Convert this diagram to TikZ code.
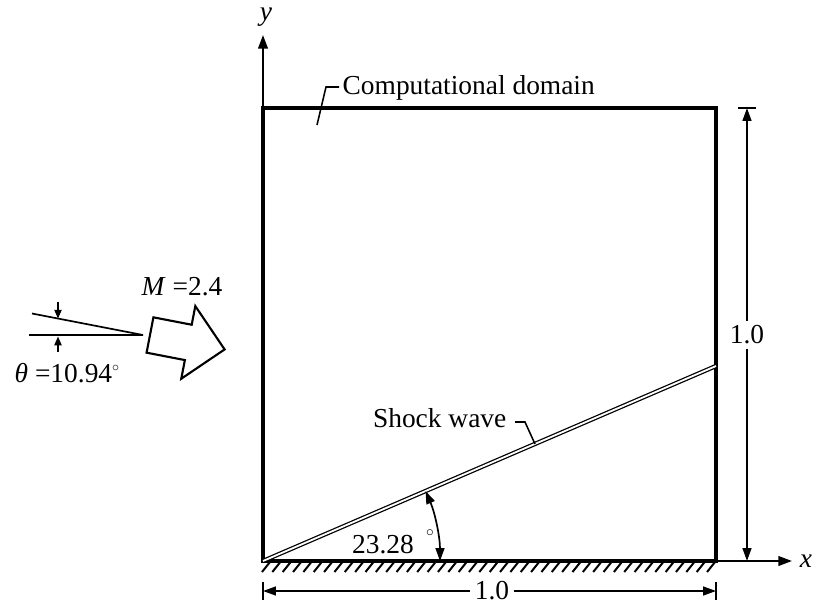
\documentclass[tikz,border=0pt]{standalone}
\usepackage{fontspec}
\setmainfont{Liberation Serif}
\usetikzlibrary{arrows.meta,calc}

\begin{document}
\begin{tikzpicture}[
  x=0.025cm,y=-0.025cm,
  font=\fontsize{19.5}{23}\selectfont,
  wall/.style={line width=2.2pt},
  axis/.style={line width=1.5pt,-{Triangle[length=3.4mm,width=2.4mm]}},
  dim/.style={line width=1.2pt},
  dimar/.style={dim,-{Triangle[length=3.2mm,width=2.2mm]}},
  small/.style={line width=1.1pt,-{Triangle[length=2.2mm,width=1.8mm]}},
  lead/.style={line width=1.1pt},
  lbl/.style={inner sep=1pt},
  dimlbl/.style={inner sep=3pt,fill=white}
]
\useasboundingbox (0,0) rectangle (818,606);
% computational domain
\coordinate (O) at (263,561);
\coordinate (A) at (716,561);
\coordinate (B) at (716,108);
\coordinate (C) at (263,108);
\draw[wall] (O) -- (A) -- (B) -- (C) -- cycle;
% axes
\coordinate (ytip) at (263,35);
\coordinate (xtip) at (792,561);
\draw[axis] (C) -- (ytip);
\draw[axis] (A) -- (xtip);
\node[lbl] (ylab) at (266,17) {\textit{y}};
\node[lbl] (xlab) at (806,561) {\textit{x}};
% wall hatching
\foreach \i in {0,...,43}
  \draw[line width=1.4pt] ({270+10.35*\i},562) -- ++(-8,10);
% shock wave
\coordinate (S) at (716,366);
\draw[double,line width=0.9pt,double distance=1.3pt] (O) -- (S);
\node[lbl,anchor=base east] (shock) at (508,427) {Shock wave};
\coordinate (sw1) at (515,422);
\coordinate (sw2) at (525,422);
\coordinate (sw3) at (535,444);
\draw[lead] (sw1) -- (sw2) -- (sw3);
% shock angle
\coordinate (arc0) at (440,561);
\draw[dim,{Triangle[length=3.2mm,width=2.2mm]}-{Triangle[length=3.2mm,width=2.2mm]}]
  (arc0) arc[start angle=0,end angle=23.28,radius=4.425cm];
\node[lbl,anchor=base] (ang) at (383,553) {23.28};
\node[inner sep=0pt,font=\fontsize{11}{13}\selectfont] (deg) at (430,533) {$\circ$};
% domain label
\node[lbl,anchor=base west] (dom) at (341,94) {Computational domain};
\coordinate (cd1) at (339,87);
\coordinate (cd2) at (326,87);
\coordinate (cd3) at (317,125);
\draw[lead] (cd1) -- (cd2) -- (cd3);
% dimension along x
\coordinate (dL) at (263,591);
\coordinate (dR) at (716,591);
\draw[dim] ($(dL)+(0,-9)$) -- ($(dL)+(0,9)$);
\draw[dim] ($(dR)+(0,-9)$) -- ($(dR)+(0,9)$);
\node[dimlbl] (dimx) at (492,591) {1.0};
\draw[dimar] (dimx) -- (dL);
\draw[dimar] (dimx) -- (dR);
% dimension along y
\coordinate (dT) at (747,108);
\coordinate (dB) at (747,561);
\draw[dim] ($(dT)+(-9,0)$) -- ($(dT)+(9,0)$);
\node[dimlbl] (dimy) at (747,335) {1.0};
\draw[dimar] (dimy) -- (dT);
\draw[dimar] (dimy) -- (dB);
% inflow arrow
\begin{scope}[shift={(150,335)},rotate=-10.94]
  \draw[line width=1.5pt,line join=miter]
    (0,-18) -- (39,-18) -- (39,-37) -- (76,0) -- (39,37) -- (39,18) -- (0,18) -- cycle;
\end{scope}
\node[lbl,anchor=base] (mach) at (182,295) {\textit{M} =2.4};
% inflow angle
\coordinate (wT) at (143,335);
\coordinate (wH) at (29,335);
\coordinate (wS) at (32,313.5);
\draw[dim] (wH) -- (wT) -- (wS);
\coordinate (tA) at (58,302);
\coordinate (tB) at (58,318.6);
\coordinate (tC) at (58,352);
\coordinate (tD) at (58,336.5);
\draw[small] (tA) -- (tB);
\draw[small] (tC) -- (tD);
\node[lbl,anchor=base west] (theta) at (13,382) {\textit{θ} =10.94${}^{\scriptscriptstyle\circ}$};
\end{tikzpicture}
\end{document}
